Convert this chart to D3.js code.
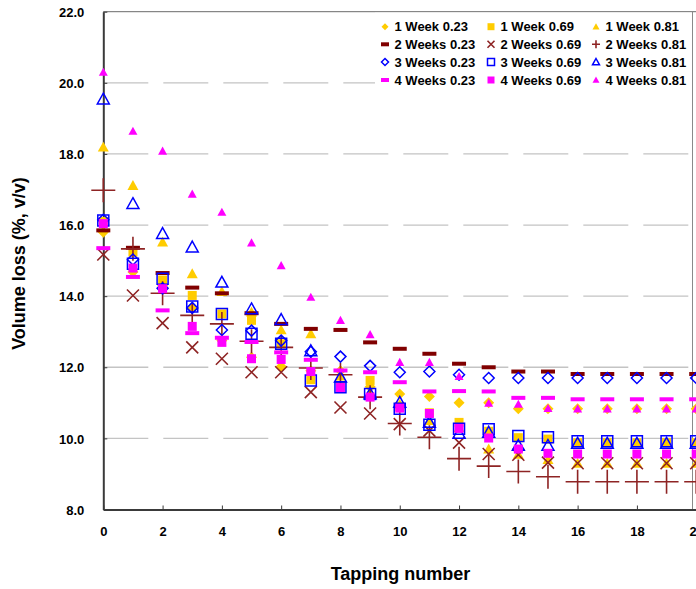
<!DOCTYPE html>
<html>
<head>
<meta charset="utf-8">
<script src="https://cdn.jsdelivr.net/npm/d3@7"></script>
<style>
  html, body { margin: 0; padding: 0; background: #fff; overflow: hidden; }
  svg { display: block; }
  text { font-family: "Liberation Sans", Arial, Helvetica, sans-serif; font-weight: bold; fill: #000; }
</style>
</head>
<body>
<div id="chart"></div>
<script>
// Tapping number (x) and volume loss readings (%, v/v) per storage time / fill level
const taps = d3.range(0, 21);
const xTickValues = [0, 2, 4, 6, 8, 10, 12, 14, 16, 18, 20];
const yTickValues = [8, 10, 12, 14, 16, 18, 20, 22];

const week1_023 = [15.8, 14.68, 14.3, 13.66, 12.75, 12.28, 12.02, 11.9, 11.9, 11.45, 11.25, 11.18, 11.0, 11.0, 10.83, 10.83, 10.83, 10.83, 10.83, 10.83, 10.83];
const week1_069 = [16.1, 15.24, 14.45, 14.02, 13.5, 13.32, 12.66, 11.65, 11.45, 11.63, 10.9, 10.72, 10.45, 10.2, 10.02, 9.98, 9.88, 9.88, 9.88, 9.88, 9.88];
const week1_081 = [18.19, 17.11, 15.52, 14.63, 14.13, 13.55, 13.05, 12.94, 11.75, 11.3, 10.95, 10.5, 10.3, 9.7, 9.55, 9.4, 9.3, 9.3, 9.3, 9.3, 9.3];
const week2_023 = [15.85, 15.36, 14.65, 14.24, 14.08, 13.52, 13.22, 13.08, 13.05, 12.7, 12.52, 12.38, 12.1, 12.0, 11.88, 11.88, 11.81, 11.81, 11.81, 11.81, 11.81];
const week2_069 = [15.17, 14.02, 13.24, 12.56, 12.24, 11.86, 11.86, 11.3, 10.87, 10.7, 10.4, 10.22, 9.88, 9.56, 9.54, 9.32, 9.3, 9.3, 9.3, 9.3, 9.3];
const week2_081 = [16.98, 15.33, 14.08, 13.46, 13.22, 12.73, 12.56, 11.98, 11.79, 11.16, 10.42, 10.03, 9.43, 9.22, 9.07, 8.92, 8.78, 8.78, 8.78, 8.78, 8.78];
const week3_023 = [16.15, 15.03, 14.22, 13.67, 13.05, 13.03, 12.75, 12.44, 12.3, 12.04, 11.86, 11.88, 11.79, 11.7, 11.7, 11.7, 11.7, 11.7, 11.7, 11.7, 11.7];
const week3_069 = [16.13, 14.91, 14.49, 13.71, 13.5, 12.94, 12.66, 11.63, 11.44, 11.25, 10.83, 10.38, 10.27, 10.26, 10.07, 10.03, 9.92, 9.92, 9.92, 9.92, 9.92];
const week3_081 = [19.54, 16.6, 15.76, 15.38, 14.39, 13.64, 13.34, 12.46, 11.72, 11.25, 11.01, 10.45, 10.14, 10.17, 9.8, 9.8, 9.86, 9.86, 9.86, 9.86, 9.86];
const week4_023 = [15.35, 14.54, 13.6, 12.96, 12.83, 12.71, 12.42, 12.21, 11.91, 11.86, 11.58, 11.32, 11.33, 11.32, 11.14, 11.14, 11.1, 11.1, 11.1, 11.1, 11.1];
const week4_069 = [16.04, 14.79, 14.21, 13.15, 12.7, 12.24, 12.22, 11.88, 11.43, 11.16, 10.85, 10.7, 10.28, 10.01, 9.7, 9.58, 9.56, 9.56, 9.56, 9.56, 9.56];
const week4_081 = [20.3, 18.64, 18.08, 16.87, 16.36, 15.5, 14.86, 13.97, 13.32, 12.92, 12.14, 12.14, 11.74, 10.99, 10.96, 10.84, 10.83, 10.83, 10.83, 10.83, 10.83];

const seriesNames = [
  "1 Week 0.23", "1 Week 0.69", "1 Week 0.81",
  "2 Weeks 0.23", "2 Weeks 0.69", "2 Weeks 0.81",
  "3 Weeks 0.23", "3 Weeks 0.69", "3 Weeks 0.81",
  "4 Weeks 0.23", "4 Weeks 0.69", "4 Weeks 0.81"
];
const seriesValues = [
  week1_023, week1_069, week1_081,
  week2_023, week2_069, week2_081,
  week3_023, week3_069, week3_081,
  week4_023, week4_069, week4_081
];

// marker style per series: shape, colour, filled or outline, plot size, legend size
const GOLD = "#ffcc00", DRED = "#800000", XRED = "#8e2424", BLUE = "#0000ff", MAG = "#ff00ff";
const markerStyles = [
  { shape: "diamond",  color: GOLD, fill: true,  size: 11, lsize: 7 },
  { shape: "square",   color: GOLD, fill: true,  size: 9,  lsize: 7 },
  { shape: "triangle", color: GOLD, fill: true,  size: 11, lsize: 7 },
  { shape: "dash",     color: DRED, fill: true,  size: 14, lsize: 8 },
  { shape: "x",        color: XRED, fill: false, size: 12, lsize: 7 },
  { shape: "plus",     color: XRED, fill: false, size: 24, lsize: 8 },
  { shape: "diamond",  color: BLUE, fill: false, size: 11, lsize: 7 },
  { shape: "square",   color: BLUE, fill: false, size: 11, lsize: 7 },
  { shape: "triangle", color: BLUE, fill: false, size: 12, lsize: 7 },
  { shape: "dash",     color: MAG,  fill: true,  size: 14, lsize: 8 },
  { shape: "square",   color: MAG,  fill: true,  size: 9,  lsize: 7 },
  { shape: "triangle", color: MAG,  fill: true,  size: 9,  lsize: 7 }
];

function markerPath(shape, s) {
  const h = s / 2;
  switch (shape) {
    case "diamond":  return `M0,${-h}L${h},0L0,${h}L${-h},0Z`;
    case "square":   return `M${-h},${-h}H${h}V${h}H${-h}Z`;
    case "triangle": return `M0,${-h}L${h},${h * 0.8}L${-h},${h * 0.8}Z`;
    case "dash":     return `M${-h},-2H${h}V2H${-h}Z`;
    case "x":        return `M${-h},${-h}L${h},${h}M${h},${-h}L${-h},${h}`;
    case "plus":     return `M${-h},0H${h}M0,${-h}V${h}`;
  }
}

function drawMarker(sel, st, s) {
  const p = sel.append("path").attr("d", markerPath(st.shape, s));
  if (st.shape === "x" || st.shape === "plus") {
    p.attr("fill", "none").attr("stroke", st.color).attr("stroke-width", 1.6);
  } else if (st.fill) {
    p.attr("fill", st.color).attr("stroke", "none");
  } else {
    p.attr("fill", "none").attr("stroke", st.color).attr("stroke-width", 1.5);
  }
}

const W = 696, H = 589;
const svg = d3.select("#chart").append("svg").attr("width", W).attr("height", H);

const x = d3.scaleLinear().domain([0, 20]).range([103.3, 696.2]);
const y = d3.scaleLinear().domain([8, 22]).range([509.5, 11.7]);
const plotRight = 692.5;

// dashed horizontal gridlines
svg.append("g")
  .selectAll("line")
  .data(yTickValues.filter(v => v > 8 && v < 22))
  .join("line")
  .attr("x1", x(0)).attr("x2", x(20))
  .attr("y1", d => y(d)).attr("y2", d => y(d))
  .attr("stroke", "#c4c4c4").attr("stroke-width", 1.3)
  .attr("stroke-dasharray", "45,15");

// frame top and right
svg.append("line").attr("x1", x(0)).attr("x2", x(20)).attr("y1", y(22)).attr("y2", y(22))
  .attr("stroke", "#6a6a6a").attr("stroke-width", 1);
svg.append("line").attr("x1", plotRight).attr("x2", plotRight).attr("y1", y(22)).attr("y2", y(8))
  .attr("stroke", "#8a8a8a").attr("stroke-width", 1);

// legend background covers the gridlines beneath it
svg.append("rect").attr("x", 375).attr("y", y(22) + 1).attr("width", plotRight - 376).attr("height", 80)
  .attr("fill", "#fff");

// axes
const yAxis = d3.axisLeft(y).tickValues(yTickValues).tickSizeInner(-4).tickSizeOuter(0)
  .tickPadding(19).tickFormat(d3.format(".1f"));
const gy = svg.append("g").attr("transform", `translate(${x(0)},0)`).call(yAxis);
gy.select(".domain").attr("stroke", "#3a3a3a").attr("stroke-width", 2);
gy.selectAll(".tick line").attr("stroke", "#3a3a3a");
gy.selectAll(".tick text").attr("font-size", 13).attr("font-family", "Liberation Sans, Arial, sans-serif")
  .attr("font-weight", "bold").attr("fill", "#000").attr("dy", "0.36em");

const xAxis = d3.axisBottom(x).tickValues(xTickValues).tickSizeInner(-4).tickSizeOuter(0)
  .tickPadding(17).tickFormat(d3.format("d"));
const gx = svg.append("g").attr("transform", `translate(0,${y(8)})`).call(xAxis);
gx.select(".domain").attr("stroke", "#3a3a3a").attr("stroke-width", 2);
gx.selectAll(".tick line").attr("stroke", "#3a3a3a");
gx.selectAll(".tick text").attr("font-size", 13).attr("font-family", "Liberation Sans, Arial, sans-serif")
  .attr("font-weight", "bold").attr("fill", "#000");

// data markers, drawn series by series
seriesValues.forEach((vals, si) => {
  const st = markerStyles[si];
  const g = svg.append("g").attr("class", "series");
  vals.forEach((v, i) => {
    const m = g.append("g").attr("transform", `translate(${x(taps[i])},${y(v)})`);
    drawMarker(m, st, st.size);
  });
});

// legend: three columns, four rows
const legendColX = [385, 491, 596];
const legendRowY = [26.7, 44.3, 62, 80];
seriesNames.forEach((name, si) => {
  const col = si % 3, row = Math.floor(si / 3);
  const g = svg.append("g").attr("transform", `translate(${legendColX[col]},${legendRowY[row]})`);
  drawMarker(g, markerStyles[si], markerStyles[si].lsize);
  g.append("text").attr("x", 9.5).attr("y", 4.6).attr("font-size", 13).text(name);
});

// axis titles
svg.append("text").attr("x", 400.5).attr("y", 580).attr("text-anchor", "middle")
  .attr("font-size", 18).text("Tapping number");
svg.append("text").attr("transform", "translate(25,263.5) rotate(-90)").attr("text-anchor", "middle")
  .attr("font-size", 18).text("Volume loss (%, v/v)");
</script>
</body>
</html>
